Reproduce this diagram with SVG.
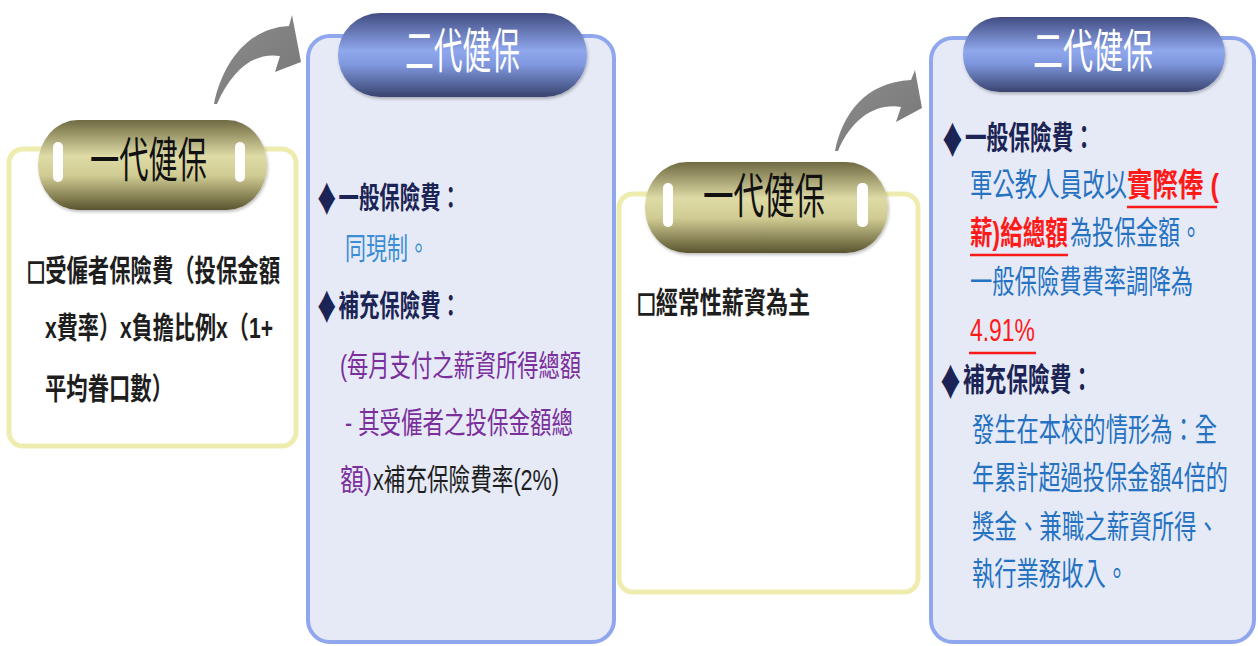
<svg xmlns="http://www.w3.org/2000/svg" width="1258" height="646" viewBox="0 0 1258 646">
<defs>
<linearGradient id="olive" x1="0" y1="0" x2="0" y2="1">
<stop offset="0" stop-color="#6f6a42"/>
<stop offset="0.4" stop-color="#dedba6"/>
<stop offset="0.62" stop-color="#cfcb92"/>
<stop offset="1" stop-color="#5a542f"/>
</linearGradient>
<linearGradient id="blue" x1="0" y1="0" x2="0" y2="1">
<stop offset="0" stop-color="#414c82"/>
<stop offset="0.45" stop-color="#8fa7ec"/>
<stop offset="0.62" stop-color="#7f97de"/>
<stop offset="1" stop-color="#39446f"/>
</linearGradient>
<linearGradient id="arr" x1="0" y1="0" x2="1" y2="1">
<stop offset="0" stop-color="#8c8c8c"/>
<stop offset="1" stop-color="#777777"/>
</linearGradient>
<filter id="sh" x="-10%" y="-10%" width="120%" height="130%">
<feDropShadow dx="1" dy="2" stdDeviation="1.5" flood-color="#000" flood-opacity="0.25"/>
</filter>
</defs>
<style>
.ybox{fill:#ffffff;stroke:#efecb0;stroke-width:5}
.bbox{fill:#e5eaf6;stroke:#90a7ee;stroke-width:4}
.pillY{fill:url(#olive)}
.pillB{fill:url(#blue)}
.slot{fill:#ffffff}
text{font-family:"Liberation Sans","Noto Sans CJK TC","Noto Sans CJK SC",sans-serif;dominant-baseline:central}
.sym{font-family:"Noto Sans CJK TC","Noto Sans CJK SC","DejaVu Sans",sans-serif;font-size:1.15em}
.box{font-family:"Noto Sans CJK TC","Noto Sans CJK SC","DejaVu Sans",sans-serif;font-size:0.85em;stroke:#1e1e1e;stroke-width:1.6}
.pt{font-size:48px;fill:#111111}
.pw{font-size:48px;fill:#ffffff}
.t{font-size:30px}
.t4{font-size:32px}
.b{font-weight:bold}
.blk{fill:#1e1e1e}
.nav{fill:#1b2454;font-weight:bold}
.lb{fill:#3a8dd5}
.bl{fill:#2672c2}
.pur{fill:#7a2f9c}
.red{fill:#ff1a1a;font-weight:bold}
.ul{stroke:#ff1a1a;stroke-width:2.5}
.arrow{fill:url(#arr)}
</style>

<g id="connectors">
<path class="arrow" d="M 214 104 C 221 68, 245 28, 289 26 L 292 15 L 301 62 L 275 72 L 280 56 C 254 52, 232 70, 217 104 Z"/>
<path class="arrow" d="M 835 151 C 842 115, 865 82, 911 80 L 915 70 L 922 108 L 896 122 L 901 107 C 876 103, 852 118, 838 151 Z"/>
</g>

<g id="node-gen1-a">
<rect class="ybox" x="9" y="149" width="287" height="297" rx="14"/>
<rect class="pillY" x="38" y="120" width="229" height="90" rx="40" ry="45" filter="url(#sh)"/>
<rect class="slot" x="53" y="142" width="10" height="40" rx="5"/>
<rect class="slot" x="235" y="142" width="10" height="40" rx="5"/>
<text class="pt" x="90" y="160" textLength="117" lengthAdjust="spacingAndGlyphs">一代健保</text>
<text class="t blk b" x="27" y="270" textLength="253" lengthAdjust="spacingAndGlyphs"><tspan class="box">□</tspan>受僱者保險費（投保金額</text>
<text class="t blk b" x="45" y="327" textLength="228" lengthAdjust="spacingAndGlyphs">x費率）x負擔比例x（1+</text>
<text class="t blk b" x="45" y="388" textLength="128" lengthAdjust="spacingAndGlyphs">平均眷口數）</text>
</g>

<g id="node-gen2-a">
<rect class="bbox" x="308" y="36" width="306" height="606" rx="22"/>
<rect class="pillB" x="338" y="13" width="249" height="84" rx="42" filter="url(#sh)"/>
<text class="pw" x="405" y="51" textLength="115" lengthAdjust="spacingAndGlyphs">二代健保</text>
<text class="t nav" x="315" y="197" textLength="146" lengthAdjust="spacingAndGlyphs"><tspan class="sym">♦</tspan>一般保險費：</text>
<text class="t lb" x="345" y="248" textLength="84" lengthAdjust="spacingAndGlyphs">同現制。</text>
<text class="t nav" x="315" y="305" textLength="146" lengthAdjust="spacingAndGlyphs"><tspan class="sym">♦</tspan>補充保險費：</text>
<text class="t pur" x="340" y="365" textLength="241" lengthAdjust="spacingAndGlyphs">(每月支付之薪資所得總額</text>
<text class="t pur" x="345" y="422" textLength="228" lengthAdjust="spacingAndGlyphs">- 其受僱者之投保金額總</text>
<text class="t pur" x="340" y="479" textLength="32" lengthAdjust="spacingAndGlyphs">額)</text>
<text class="t blk" x="373" y="479" textLength="186" lengthAdjust="spacingAndGlyphs">x補充保險費率(2%)</text>
</g>

<g id="node-gen1-b">
<rect class="ybox" x="619" y="194" width="299" height="398" rx="14"/>
<rect class="pillY" x="645" y="162" width="243" height="91" rx="42" ry="45" filter="url(#sh)"/>
<rect class="slot" x="663" y="183" width="10" height="44" rx="5"/>
<rect class="slot" x="857" y="183" width="11" height="44" rx="5"/>
<text class="pt" x="703" y="196" textLength="122" lengthAdjust="spacingAndGlyphs">一代健保</text>
<text class="t blk b" x="637" y="302" textLength="173" lengthAdjust="spacingAndGlyphs"><tspan class="box">□</tspan>經常性薪資為主</text>
</g>

<g id="node-gen2-b">
<rect class="bbox" x="931" y="38" width="323" height="604" rx="22"/>
<rect class="pillB" x="963" y="17" width="262" height="75" rx="37" filter="url(#sh)"/>
<text class="pw" x="1033" y="51" textLength="120" lengthAdjust="spacingAndGlyphs" style="font-size:46px">二代健保</text>
<text class="t4 nav" x="940" y="138" textLength="155" lengthAdjust="spacingAndGlyphs"><tspan class="sym">♦</tspan>一般保險費：</text>
<text class="t4 bl" x="970" y="185" textLength="157" lengthAdjust="spacingAndGlyphs">軍公教人員改以</text>
<text class="t4 red" x="1127" y="185" textLength="92" lengthAdjust="spacingAndGlyphs">實際俸 (</text>
<line class="ul" x1="1127" y1="207" x2="1217" y2="207"/>
<text class="t4 red" x="970" y="233" textLength="98" lengthAdjust="spacingAndGlyphs">薪)給總額</text>
<line class="ul" x1="970" y1="255" x2="1068" y2="255"/>
<text class="t4 bl" x="1070" y="233" textLength="132" lengthAdjust="spacingAndGlyphs">為投保金額。</text>
<text class="t4 bl" x="970" y="282" textLength="223" lengthAdjust="spacingAndGlyphs">一般保險費費率調降為</text>
<text class="t4 red" x="970" y="330" textLength="65" lengthAdjust="spacingAndGlyphs" style="font-weight:normal">4.91%</text>
<line class="ul" x1="969" y1="353" x2="1036" y2="353"/>
<text class="t4 nav" x="938" y="380" textLength="155" lengthAdjust="spacingAndGlyphs"><tspan class="sym">♦</tspan>補充保險費：</text>
<text class="t4 bl" x="972" y="430" textLength="245" lengthAdjust="spacingAndGlyphs">發生在本校的情形為：全</text>
<text class="t4 bl" x="972" y="478" textLength="256" lengthAdjust="spacingAndGlyphs">年累計超過投保金額4倍的</text>
<text class="t4 bl" x="972" y="527" textLength="247" lengthAdjust="spacingAndGlyphs">獎金、兼職之薪資所得、</text>
<text class="t4 bl" x="972" y="574" textLength="156" lengthAdjust="spacingAndGlyphs">執行業務收入。</text>
</g>
</svg>
